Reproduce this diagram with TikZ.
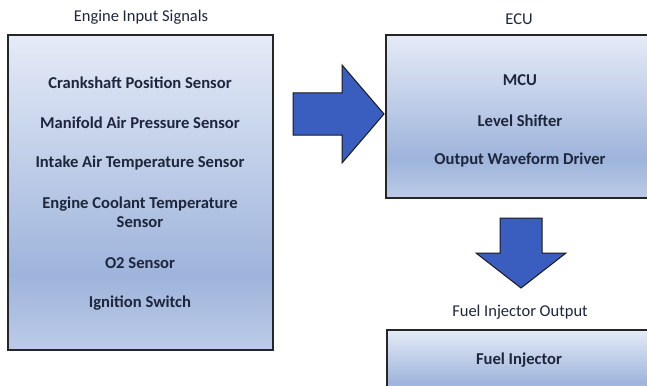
\documentclass[tikz,border=0pt]{standalone}
\usepackage{fontspec}
\setmainfont{Carlito}
\definecolor{ctop}{RGB}{229,235,247}
\definecolor{cmid}{RGB}{158,180,219}
\definecolor{cbot}{RGB}{188,203,232}
\definecolor{txt}{RGB}{30,38,60}
\definecolor{arrowblue}{RGB}{58,94,192}
\pgfdeclareverticalshading{boxshade}{100bp}{color(0bp)=(cbot); color(25bp)=(cbot); color(37bp)=(cmid); color(75bp)=(ctop); color(100bp)=(ctop)}
\tikzset{
  panel/.style={draw=black!85, line width=1.8pt, shading=boxshade, inner sep=0pt},
  title/.style={font=\fontsize{16.5}{19}\selectfont, text=txt},
  item/.style={font=\fontsize{16.6}{19.5}\selectfont\bfseries, text=txt, align=center},
  blockarrow/.style={fill=arrowblue, draw=black!90, line width=1pt, line join=miter}
}
\begin{document}
\begin{tikzpicture}[x=1pt,y=-1pt]
\clip (0,0) rectangle (647,385);
\useasboundingbox (0,0) rectangle (647,385);
% panels
\node[panel, minimum width=265pt, minimum height=315pt] (inbox) at (140.5,192.5) {};
\node[panel, minimum width=280pt, minimum height=163pt] (ecu) at (526,116.5) {};
\node[panel, minimum width=280pt, minimum height=70pt] (fuel) at (527,365) {};
% titles
\node[title] (tin) at (141,17) {Engine Input Signals};
\node[title] (tecu) at (519,19) {ECU};
\node[title] (tfuel) at (520,312) {Fuel Injector Output};
% input items
\node[item] (i1) at (140,83) {Crankshaft Position Sensor};
\node[item] (i2) at (140,123) {Manifold Air Pressure Sensor};
\node[item] (i3) at (140,163) {Intake Air Temperature Sensor};
\node[item] (i4) at (140,212) {Engine Coolant Temperature\\Sensor};
\node[item] (i5) at (140,263) {O2 Sensor};
\node[item] (i6) at (140,303) {Ignition Switch};
% ecu items
\node[item] (e1) at (520,80) {MCU};
\node[item] (e2) at (520,121) {Level Shifter};
\node[item] (e3) at (520,160) {Output Waveform Driver};
% fuel item
\node[item] (f1) at (519,360) {Fuel Injector};
% block arrows
\draw[blockarrow] (293,93) -- (342,93) -- (342,65) -- (384,114) -- (342,163) -- (342,135) -- (293,135) -- cycle;
\draw[blockarrow] (500,218) -- (542,218) -- (542,253) -- (566,253) -- (521,288) -- (476,253) -- (500,253) -- cycle;
\end{tikzpicture}
\end{document}
